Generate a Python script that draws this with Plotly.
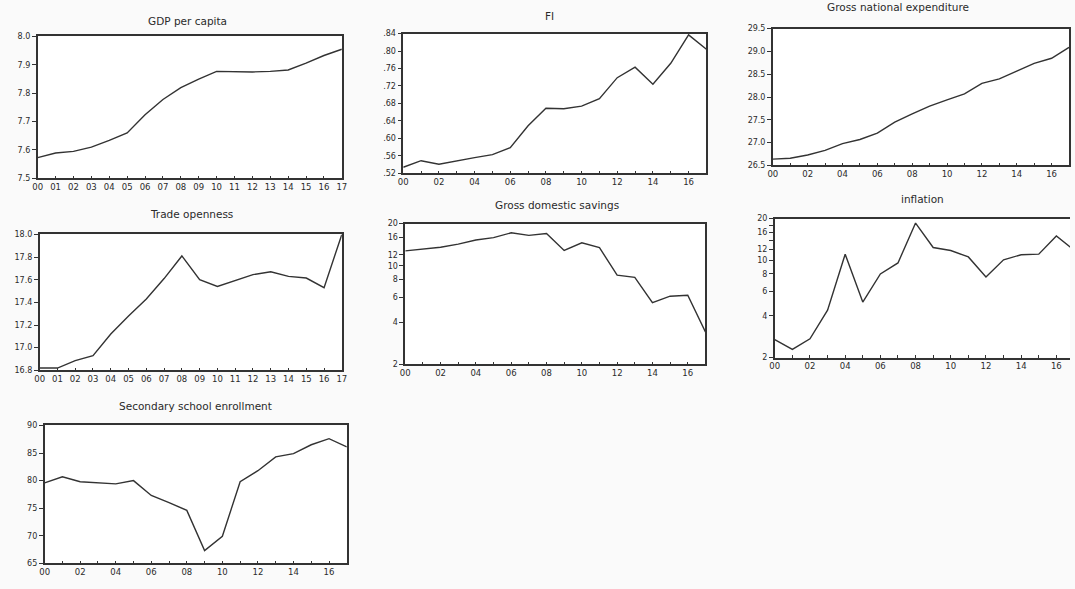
import plotly.graph_objects as go
import math

W, H = 1075, 589

years = list(range(2000, 2018))
year_labels = [f"{y % 100:02d}" for y in years]

gdp_per_capita = [7.573, 7.589, 7.595, 7.610, 7.634, 7.660, 7.724, 7.778, 7.820, 7.850,
                  7.877, 7.875, 7.875, 7.877, 7.882, 7.906, 7.933, 7.955]
fi = [0.534, 0.549, 0.541, 0.549, 0.556, 0.563, 0.579, 0.629, 0.669, 0.668,
      0.674, 0.691, 0.739, 0.763, 0.724, 0.772, 0.837, 0.804]
gross_national_expenditure = [26.64, 26.66, 26.73, 26.83, 26.98, 27.07, 27.21, 27.45, 27.63, 27.80,
                              27.94, 28.07, 28.30, 28.40, 28.57, 28.74, 28.85, 29.09]
trade_openness = [16.82, 16.82, 16.886, 16.93, 17.12, 17.28, 17.43, 17.61, 17.81, 17.60,
                  17.54, 17.59, 17.645, 17.67, 17.63, 17.615, 17.53, 18.00]
gross_domestic_savings = [12.8, 13.2, 13.6, 14.3, 15.3, 15.9, 17.2, 16.5, 17.0, 12.9,
                          14.6, 13.5, 8.6, 8.3, 5.5, 6.1, 6.2, 3.4]
inflation = [2.69, 2.29, 2.73, 4.39, 11.1, 5.02, 8.0, 9.6, 18.6, 12.4,
             11.8, 10.6, 7.6, 10.1, 11.0, 11.1, 15.0, 11.9]
secondary_school_enrollment = [79.6, 80.7, 79.8, 79.6, 79.4, 80.0, 77.3, 76.0, 74.6, 67.3,
                               69.9, 79.8, 81.8, 84.3, 84.9, 86.5, 87.6, 86.1]

titles = ["GDP per capita", "FI", "Gross national expenditure", "Trade openness",
          "Gross domestic savings", "inflation", "Secondary school enrollment"]

# y tick definitions
gdp_ticks = [7.5, 7.6, 7.7, 7.8, 7.9, 8.0]
fi_ticks = [0.52, 0.56, 0.60, 0.64, 0.68, 0.72, 0.76, 0.80, 0.84]
gne_ticks = [26.5, 27.0, 27.5, 28.0, 28.5, 29.0, 29.5]
trade_ticks = [16.8, 17.0, 17.2, 17.4, 17.6, 17.8, 18.0]
log_ticks = [2, 4, 6, 8, 10, 12, 16, 20]
infl_ticks = [2, 4, 6, 8, 10, 12, 14, 16, 18, 20]
sse_ticks = [65, 70, 75, 80, 85, 90]

series = [gdp_per_capita, fi, gross_national_expenditure, trade_openness,
          gross_domestic_savings, inflation, secondary_school_enrollment]

# panel pixel rects: x0, x1, ytop, ybottom, pixel position of 2017
rects = [
    (33, 340, 33, 177, 340),
    (402, 708, 30, 172, 708),
    (775, 1074, 25, 164, 1074),
    (35, 340, 234, 372, 340),
    (404, 707, 223, 366, 707),
    (777, 1075, 218, 359, 1079),
    (40, 345, 428, 568, 345),
]
title_pos = [(184, 17), (550, 12), (901, 3), (188, 213), (557, 204), (926, 198), (192, 408)]

every_year = [True, False, False, True, False, False, False]
right_frame = [True, True, True, True, True, False, True]

yspecs = [
    dict(type="linear", range=[7.5, 8.0], tickvals=gdp_ticks, ticktext=[f"{v:.1f}" for v in gdp_ticks]),
    dict(type="linear", range=[0.52, 0.84], tickvals=fi_ticks, ticktext=[f"{v:.2f}"[1:] for v in fi_ticks]),
    dict(type="linear", range=[26.5, 29.5], tickvals=gne_ticks, ticktext=[f"{v:.1f}" for v in gne_ticks]),
    dict(type="linear", range=[16.8, 18.0], tickvals=trade_ticks, ticktext=[f"{v:.1f}" for v in trade_ticks]),
    dict(type="log", range=[math.log10(2), math.log10(20)], tickvals=log_ticks, ticktext=[str(v) for v in log_ticks]),
    dict(type="log", range=[math.log10(2), math.log10(20)], tickvals=infl_ticks,
         ticktext=["" if v in (14, 18) else str(v) for v in infl_ticks]),
    dict(type="linear", range=[65, 90], tickvals=sse_ticks, ticktext=[str(v) for v in sse_ticks]),
]

LINE = "#333333"
TXT = "#2a2a2a"

fig = go.Figure()
layout = dict(
    width=W, height=H,
    margin=dict(l=0, r=0, t=0, b=0),
    paper_bgcolor="#fafafa",
    plot_bgcolor="#ffffff",
    showlegend=False,
    annotations=[],
)

for i, (vals, rect, ttl, tp, ey, ys, rf) in enumerate(zip(series, rects, titles, title_pos,
                                                         every_year, yspecs, right_frame)):
    n = i + 1
    xa = f"xaxis{n}" if n > 1 else "xaxis"
    ya = f"yaxis{n}" if n > 1 else "yaxis"
    x0, x1, yt, yb, x17 = rect
    xmax = 2000 + 17 * (x1 - x0) / (x17 - x0)
    fig.add_trace(go.Scatter(x=years, y=vals, mode="lines",
                             line=dict(color=LINE, width=1.4),
                             xaxis=f"x{n}" if n > 1 else "x",
                             yaxis=f"y{n}" if n > 1 else "y",
                             hoverinfo="skip"))
    ticktext = year_labels if ey else [lab if (yr % 2 == 0) else "" for yr, lab in zip(years, year_labels)]
    layout[xa] = dict(
        domain=[x0 / W, x1 / W], range=[2000, xmax],
        anchor=f"y{n}" if n > 1 else "y",
        tickvals=years, ticktext=ticktext,
        ticks="inside", ticklen=3, tickwidth=1, tickcolor=LINE,
        showline=True, mirror=True, linecolor=LINE, linewidth=1.5,
        showgrid=False, zeroline=False,
        tickfont=dict(family="DejaVu Sans", size=8.5, color=TXT),
        fixedrange=True,
    )
    layout[ya] = dict(
        domain=[1 - yb / H, 1 - yt / H],
        anchor=f"x{n}" if n > 1 else "x",
        ticks="outside", ticklen=4, tickwidth=1, tickcolor=LINE,
        showline=True, mirror=rf, linecolor=LINE, linewidth=1.5,
        showgrid=False, zeroline=False,
        tickfont=dict(family="DejaVu Sans", size=8, color=TXT),
        fixedrange=True,
        **ys,
    )
    layout["annotations"].append(dict(
        text=ttl, x=tp[0] / W, y=1 - tp[1] / H, xref="paper", yref="paper",
        showarrow=False, xanchor="center", yanchor="middle",
        font=dict(family="DejaVu Sans", size=10.5, color=TXT),
    ))

fig.update_layout(**layout)
fig.write_html("out.html")
